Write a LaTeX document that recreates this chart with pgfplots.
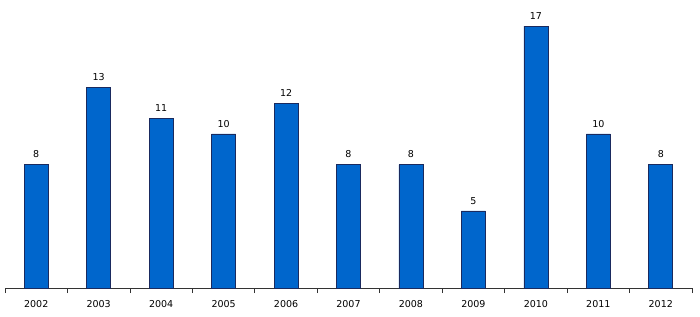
\documentclass[border=0pt]{standalone}
\usepackage{pgfplots}
\pgfplotsset{compat=1.18}
\usepackage{fontspec}
\setmainfont{DejaVu Sans}
\definecolor{barblue}{HTML}{0066CC}
\definecolor{baredge}{HTML}{1A2A5E}
\begin{document}
\begin{tikzpicture}
\useasboundingbox (0,0) rectangle (700bp,317bp);
\begin{axis}[
  at={(5bp,29bp)}, anchor=south west,
  scale only axis, width=687bp, height=288bp,
  xmin=-0.5, xmax=10.5, ymin=0, ymax=18.69,
  axis x line=bottom, axis y line=none,
  axis line style={-, draw=black!80, line width=0.8pt},
  /pgf/number format/assume math mode=true,
  xtick={-0.5,0.5,...,10.5},
  xticklabels={},
  extra x ticks={0,...,10},
  extra x tick labels={2002,2003,2004,2005,2006,2007,2008,2009,2010,2011,2012},
  extra x tick style={major tick length=0pt},
  major tick length=5bp,
  xtick align=outside,
  tick style={black!80, line width=0.8pt},
  xticklabel style={font=\fontsize{9.5bp}{11bp}\selectfont, yshift=-9bp},
  ybar, bar width=24bp,
  nodes near coords,
  every node near coord/.append style={font=\fontsize{9.5bp}{11bp}\selectfont, yshift=3bp},
  clip=false,
]
\addplot[fill=barblue, draw=baredge, line width=0.6pt] coordinates {
(0,8) (1,13) (2,11) (3,10) (4,12) (5,8) (6,8) (7,5) (8,17) (9,10) (10,8)
};
\end{axis}
\end{tikzpicture}
\end{document}
